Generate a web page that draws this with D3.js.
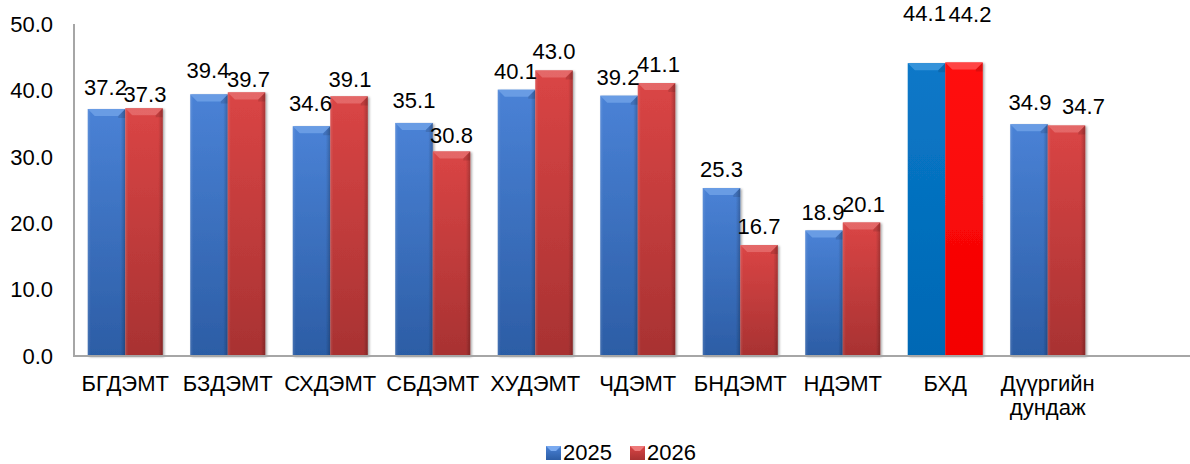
<!DOCTYPE html>
<html>
<head>
<meta charset="utf-8">
<script src="https://cdn.jsdelivr.net/npm/d3@7"></script>
<style>
  html, body { margin: 0; padding: 0; background: #fff; }
  svg { display: block; font-family: Arial, "Liberation Sans", sans-serif; }
  .lbl { font-size: 22px; fill: #000; }
</style>
</head>
<body>
<div id="chart"></div>
<script>
const categories = ["БГДЭМТ", "БЗДЭМТ", "СХДЭМТ", "СБДЭМТ", "ХУДЭМТ", "ЧДЭМТ", "БНДЭМТ", "НДЭМТ", "БХД", "Дүүргийн дундаж"];
const values2025 = [37.2, 39.4, 34.6, 35.1, 40.1, 39.2, 25.3, 18.9, 44.1, 34.9];
const values2026 = [37.3, 39.7, 39.1, 30.8, 43.0, 41.1, 16.7, 20.1, 44.2, 34.7];
const seriesNames = ["2025", "2026"];
const yTicks = [0, 10, 20, 30, 40, 50];
const highlightCategory = "БХД";

const W = 1190, H = 464;
const plotLeft = 74, plotTop = 24, plotBottom = 356;

const svg = d3.select('#chart').append('svg')
  .attr('width', W)
  .attr('height', H);

const defs = svg.append('defs');

// Body gradients (lighter top, darker bottom)
function vGrad(id, c1, c2) {
  const g = defs.append('linearGradient').attr('id', id)
    .attr('x1', 0).attr('y1', 0).attr('x2', 0).attr('y2', 1);
  g.append('stop').attr('offset', '0%').attr('stop-color', c1);
  g.append('stop').attr('offset', '100%').attr('stop-color', c2);
}
vGrad('g2025', '#4a82d6', '#2c5da5');
vGrad('g2026', '#da4545', '#a83232');
vGrad('gHiBlue', '#0a78c8', '#0068b4');
vGrad('gHiRed', '#ff1010', '#f40000');

// Edge shading across the bar width
const eg = defs.append('linearGradient').attr('id', 'edge')
  .attr('x1', 0).attr('y1', 0).attr('x2', 1).attr('y2', 0);
eg.append('stop').attr('offset', '0%').attr('stop-color', '#fff').attr('stop-opacity', 0.12);
eg.append('stop').attr('offset', '8%').attr('stop-color', '#fff').attr('stop-opacity', 0.0);
eg.append('stop').attr('offset', '88%').attr('stop-color', '#000').attr('stop-opacity', 0.0);
eg.append('stop').attr('offset', '100%').attr('stop-color', '#000').attr('stop-opacity', 0.22);

const shadow = defs.append('filter').attr('id', 'shadow')
  .attr('x', '-10%').attr('y', '-10%').attr('width', '130%').attr('height', '120%');
shadow.append('feDropShadow').attr('dx', 1.5).attr('dy', 1).attr('stdDeviation', 1.2)
  .attr('flood-color', '#000').attr('flood-opacity', 0.35);

// Scales
const x = d3.scaleBand()
  .domain(categories)
  .range([plotLeft, plotLeft + 1025])
  .paddingInner(0.268)
  .paddingOuter(0.134);

const xSub = d3.scaleBand()
  .domain(seriesNames)
  .range([0, x.bandwidth()]);

const y = d3.scaleLinear().domain([0, 50]).range([plotBottom, plotTop]);

// Y tick labels (no tick marks)
svg.append('g').selectAll('text')
  .data(yTicks)
  .join('text')
  .attr('class', 'lbl')
  .attr('x', 53)
  .attr('y', d => y(d))
  .attr('dy', '0.35em')
  .attr('text-anchor', 'end')
  .text(d => d.toFixed(1));

// Bars
const rows = categories.map((c, i) => ({ cat: c, vals: [values2025[i], values2026[i]] }));

const barG = svg.append('g').selectAll('g')
  .data(rows)
  .join('g')
  .attr('transform', d => `translate(${x(d.cat)},0)`);

const bars = barG.selectAll('g.bar')
  .data(d => d.vals.map((v, k) => ({ cat: d.cat, series: seriesNames[k], k, v })))
  .join('g')
  .attr('class', 'bar')
  .attr('filter', 'url(#shadow)');

function fillFor(d) {
  if (d.cat === highlightCategory) return d.k === 0 ? 'url(#gHiBlue)' : 'url(#gHiRed)';
  return d.k === 0 ? 'url(#g2025)' : 'url(#g2026)';
}

bars.append('rect')
  .attr('x', d => xSub(d.series))
  .attr('y', d => y(d.v))
  .attr('width', xSub.bandwidth())
  .attr('height', d => y(0) - y(d.v))
  .attr('fill', fillFor);

bars.filter(d => d.cat !== highlightCategory).append('rect')
  .attr('x', d => xSub(d.series))
  .attr('y', d => y(d.v))
  .attr('width', xSub.bandwidth())
  .attr('height', d => y(0) - y(d.v))
  .attr('fill', 'url(#edge)');

// Top bevel
const bev = 7;
bars.append('path')
  .attr('d', d => {
    const x0 = xSub(d.series), x1 = x0 + xSub.bandwidth(), t = y(d.v);
    return `M${x0},${t}L${x1},${t}L${x1 - bev},${t + bev}L${x0 + bev},${t + bev}Z`;
  })
  .attr('fill', d => d.cat === highlightCategory
    ? (d.k === 0 ? '#3a96dc' : '#ff4a4a')
    : (d.k === 0 ? '#6d9fe6' : '#e46a6a'))
  .attr('opacity', 0.9);

bars.append('path')
  .attr('d', d => {
    const x0 = xSub(d.series), x1 = x0 + xSub.bandwidth(), t = y(d.v);
    return `M${x1},${t}L${x1 - bev},${t + bev}L${x1 - bev},${t + bev + 2}L${x1},${t + bev + 2}Z`;
  })
  .attr('fill', '#000').attr('opacity', 0.12);

// Value labels — small nudges [dx, dy] copied from the reference layout
const labelNudge = {
  "БГДЭМТ|2025": [-1, -3], "БГДЭМТ|2026": [1, 5],
  "БЗДЭМТ|2025": [-1, -5], "БЗДЭМТ|2026": [2, 6],
  "СХДЭМТ|2025": [-1, -4], "СХДЭМТ|2026": [1, 2],
  "СБДЭМТ|2025": [0, -4], "СБДЭМТ|2026": [0, 3],
  "ХУДЭМТ|2025": [-1, 0], "ЧДЭМТ|2025": [-1, 0], "ЧДЭМТ|2026": [2, 0],
  "НДЭМТ|2025": [-1, 0], "НДЭМТ|2026": [2, 0],
  "БХД|2025": [-2, -31], "БХД|2026": [6, -30],
  "Дүүргийн дундаж|2025": [1, -3], "Дүүргийн дундаж|2026": [17, -1]
};
const nudge = d => labelNudge[d.cat + '|' + d.series] || [0, 0];

barG.selectAll('text.val')
  .data(d => d.vals.map((v, k) => ({ cat: d.cat, series: seriesNames[k], v })))
  .join('text')
  .attr('class', 'lbl val')
  .attr('x', d => xSub(d.series) + xSub.bandwidth() / 2 + nudge(d)[0])
  .attr('y', d => y(d.v) - 11 + nudge(d)[1])
  .attr('text-anchor', 'middle')
  .text(d => d.v.toFixed(1));

// Axis lines
svg.append('line')
  .attr('x1', plotLeft).attr('x2', plotLeft)
  .attr('y1', plotTop).attr('y2', plotBottom)
  .attr('stroke', '#a6a6a6').attr('stroke-width', 2);

svg.append('line')
  .attr('x1', plotLeft - 1).attr('x2', W)
  .attr('y1', plotBottom).attr('y2', plotBottom)
  .attr('stroke', '#a6a6a6').attr('stroke-width', 2);

// Category labels (multi-word names wrap to a second line)
const catLines = categories.flatMap(c =>
  c.split(' ').map((w, i) => ({ cat: c, word: w, line: i })));

svg.append('g').selectAll('text')
  .data(catLines)
  .join('text')
  .attr('class', 'lbl')
  .attr('text-anchor', 'middle')
  .attr('x', d => x(d.cat) + x.bandwidth() / 2)
  .attr('y', d => 391 + d.line * 24)
  .text(d => d.word);

// Legend
const legend = svg.append('g').attr('transform', 'translate(546,446)');
const legItems = legend.selectAll('g')
  .data(seriesNames)
  .join('g')
  .attr('transform', (d, i) => `translate(${i * 84},0)`);

legItems.append('rect')
  .attr('width', 15).attr('height', 14)
  .attr('fill', (d, i) => i === 0 ? 'url(#g2025)' : 'url(#g2026)');

legItems.append('path')
  .attr('d', 'M0,0L15,0L10,5L5,5Z')
  .attr('fill', (d, i) => i === 0 ? '#7aaaf0' : '#ee7a7a');

legItems.append('text')
  .attr('class', 'lbl')
  .attr('x', 17)
  .attr('y', 14)
  .text(d => d);
</script>
</body>
</html>
